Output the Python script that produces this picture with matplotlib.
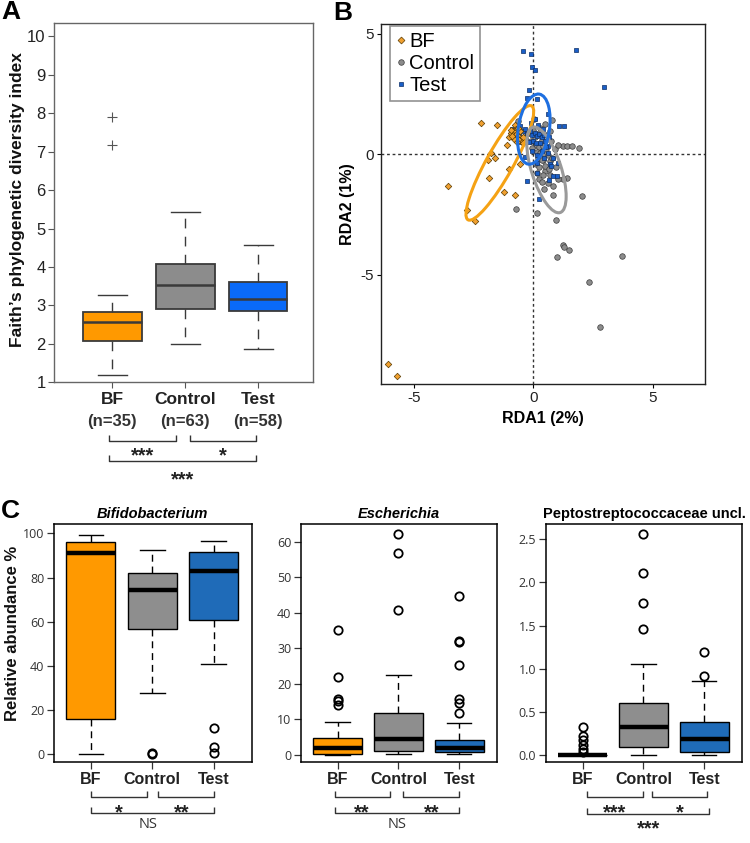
import numpy as np
import matplotlib
matplotlib.use('Agg')
import matplotlib.pyplot as plt
from matplotlib import transforms as mtrans
from matplotlib.patches import Ellipse
from matplotlib.lines import Line2D

plt.rcParams['font.family'] = ['Liberation Sans', 'DejaVu Sans']

# ---------------- DATA ----------------
groups = ['BF', 'Control', 'Test']
n_counts = [35, 63, 58]

# Panel A: Faith's PD box statistics
faith_whislo = [1.20, 1.99, 1.87]
faith_q1 = [2.07, 2.91, 2.85]
faith_med = [2.58, 3.52, 3.17]
faith_q3 = [2.83, 4.07, 3.62]
faith_whishi = [3.27, 5.44, 4.56]
faith_fliers = [[7.90, 7.18], [], []]
faith_yticks = [1, 2, 3, 4, 5, 6, 7, 8, 9, 10]

# Panel B: RDA scores
bf_x = [-6.08, -5.68, -3.57, -2.77, -2.42, -2.20, -1.52, -1.79, -1.88, -1.59, -1.85, -1.23,
        -1.00, -0.75, -0.55, -1.10, -1.02, -0.78, -0.72, -0.66, -0.76, -0.62, -0.69, -0.58,
        -0.80, -0.48, -0.84, -0.92, -0.45, -0.42, -0.88, -0.55, -0.70, -0.62, -0.95]
bf_y = [-8.70, -9.18, -1.33, -2.31, -2.77, 1.28, 1.22, 0.07, -0.25, -0.16, -0.98, -1.55,
        -0.62, -1.71, -0.42, 0.40, 0.73, 1.20, 1.03, 0.93, 0.87, 0.76, 0.66, 0.59,
        0.62, 0.52, 0.96, 0.86, 0.73, 0.45, 0.74, 0.98, 0.50, 1.10, 1.00]
ctrl_x = [-0.74, 0.14, 0.95, 0.81, 0.81, 0.46, 2.02, 1.26, 1.30, 1.48, 0.98, 3.70, 2.33, 2.79,
          1.26, 1.39, 1.63, 1.90, 1.42, 1.24, 1.05, 0.25, 0.71, 0.49, 0.70, 0.42, 0.03, 0.77,
          0.49, -0.66, 0.60, 0.35, 0.10, 0.25, 0.40, 0.55, 0.15, 0.30, 0.45, 0.60, 0.20, 0.35,
          0.10, 0.25, 0.50, 0.65, 0.05, 0.20, 0.35, -0.10, -0.25, 0.00, 0.75, 0.90, 0.80, 0.95,
          0.15, 0.40, 0.55, -0.05, 0.70, 1.05, 0.30]
ctrl_y = [-2.27, -2.45, -2.72, -1.69, -1.30, -1.44, -1.72, -3.76, -3.85, -3.97, -4.25, -4.22,
          -5.28, -7.15, 0.35, 0.35, 0.32, 0.24, -0.97, -1.04, -1.04, -1.01, -0.86, -0.68, -0.30,
          -0.24, 1.47, 1.42, 1.24, 1.36, -1.20, -1.15, 0.40, 0.30, 0.35, 0.20, 0.10, 0.05, 0.00,
          -0.05, -0.15, -0.25, -0.40, -0.55, -0.50, -0.60, 0.70, 0.85, 0.60, 0.55, 0.90, 1.00,
          0.55, 0.20, -0.15, -0.55, -0.80, -0.85, 0.80, 0.25, 0.95, 0.40, 1.10]
test_x = [-0.45, -0.08, -0.06, 0.08, 1.79, 2.94, -0.17, -0.26, 0.14, 0.61, 1.09, 1.30, -0.91,
          -0.33, 0.14, 0.70, 1.02, 0.14, 0.81, 0.98, 0.64, -0.25, 0.22, 0.66, 0.63, 0.84, 0.75,
          -0.55, -0.45, -0.35, -0.25, -0.15, -0.05, 0.05, 0.15, 0.25, 0.35, 0.45, -0.40, -0.30,
          -0.20, 0.00, 0.10, 0.30, 0.50, -0.60, -0.70, 0.20, 0.40, -0.10, 0.05, 0.55, 0.35,
          0.15, -0.05, 0.45, 0.60, -0.50]
test_y = [4.26, 4.16, 3.61, 3.49, 4.32, 2.77, 2.68, 2.35, 2.30, 1.67, 1.15, 1.15, 1.04,
          -0.10, -0.35, -0.40, -0.37, -0.76, -0.90, -0.90, -1.07, -1.12, -1.84, 0.73, 0.36,
          -0.17, -0.48, 1.15, 0.95, 1.05, 0.85, 0.95, 0.80, 0.90, 0.75, 0.85, 0.70, 0.80, 0.70,
          0.60, 0.50, 0.55, 0.45, 0.45, 0.55, 0.85, 0.95, 1.20, 1.05, 1.30, 1.45, 0.30, 0.15,
          -0.05, 0.15, -0.15, 0.05, 0.50]
# confidence ellipses: centre x, centre y, full width, full height, angle (deg)
ell_bf = [-1.40, -0.36, 5.42, 1.12, 60.6]
ell_ctrl = [0.55, -0.65, 3.72, 1.24, -72.0]
ell_test = [0.02, 1.04, 2.94, 1.30, 81.0]
rda_ticks = [-5, 0, 5]

# Panel C: relative abundances (box statistics)
bifido_whislo = [0.0, 27.6, 40.9]
bifido_q1 = [16.1, 56.7, 61.0]
bifido_med = [91.2, 74.5, 82.9]
bifido_q3 = [96.0, 82.2, 91.5]
bifido_whishi = [99.2, 92.7, 96.7]
bifido_fliers = [[], [0.3, 0.8], [12.0, 3.3, 0.8]]
bifido_ticks = [0, 20, 40, 60, 80, 100]

esch_whislo = [0.0, 0.2, 0.2]
esch_q1 = [0.2, 1.2, 0.75]
esch_med = [2.06, 4.5, 1.9]
esch_q3 = [4.69, 11.7, 4.2]
esch_whishi = [9.37, 22.4, 8.9]
esch_fliers = [[35.3, 21.9, 15.8, 15.2, 14.1], [62.2, 56.7, 40.7],
               [44.8, 32.2, 31.9, 25.4, 15.8, 14.5, 11.9]]
esch_ticks = [0, 10, 20, 30, 40, 50, 60]

pepto_whislo = [0.0, 0.0, 0.0]
pepto_q1 = [0.0, 0.09, 0.04]
pepto_med = [0.0, 0.32, 0.185]
pepto_q3 = [0.0, 0.60, 0.38]
pepto_whishi = [0.0, 1.06, 0.86]
pepto_fliers = [[0.33, 0.22, 0.17, 0.12, 0.07, 0.03], [2.56, 2.11, 1.76, 1.46], [1.19, 0.92]]
pepto_ticks = [0.0, 0.5, 1.0, 1.5, 2.0, 2.5]

# ---------------- LAYOUT ----------------
W, H = 750, 843
fig = plt.figure(figsize=(7.5, 8.43), dpi=100)


def add_ax(l, t, r, b):
    return fig.add_axes([l / W, 1 - b / H, (r - l) / W, (b - t) / H])


def fy(py):
    return 1 - py / H


def ftext(px, py, s, **kw):
    fig.text(px / W, fy(py), s, **kw)


def make_stats(wl, q1, med, q3, wh, fl):
    return [dict(whislo=wl[i], q1=q1[i], med=med[i], q3=q3[i], whishi=wh[i],
                 fliers=fl[i]) for i in range(len(wl))]


def bracket(ax, x0, x1, py, tick=6, color='#333333', lw=1.0):
    tr = mtrans.blended_transform_factory(ax.transData, fig.transFigure)
    ax.plot([x0, x0, x1, x1], [fy(py - tick), fy(py), fy(py), fy(py - tick)],
            transform=tr, clip_on=False, color=color, lw=lw, solid_capstyle='butt')


def btext(ax, x, py, s, size, **kw):
    tr = mtrans.blended_transform_factory(ax.transData, fig.transFigure)
    ax.text(x, fy(py), s, transform=tr, ha='center', va='center', fontsize=size,
            clip_on=False, **kw)


def star_text(ax, x, pcenter, s, size=14.5, color='#222222'):
    # place asterisks so their glyph centre sits at pcenter
    base = pcenter + 0.56 * size * 100 / 72
    tr = mtrans.blended_transform_factory(ax.transData, fig.transFigure)
    ax.text(x, fy(base), s, transform=tr, ha='center', va='baseline', fontsize=size,
            fontweight='bold', color=color, clip_on=False)


# ---------------- PANEL A ----------------
axA = add_ax(54, 23, 313, 382.3)
colA = ['#FF9900', '#8C8C8C', '#0A6AF8']
edgeA = '#3A3A3A'
statsA = make_stats(faith_whislo, faith_q1, faith_med, faith_q3, faith_whishi, faith_fliers)
bpA = axA.bxp(statsA, positions=[1, 2, 3], widths=0.8, capwidths=0.4, patch_artist=True,
              boxprops=dict(edgecolor=edgeA, linewidth=1.3),
              medianprops=dict(color=edgeA, linewidth=1.8),
              whiskerprops=dict(color=edgeA, linewidth=1.0, linestyle=(0, (7, 6))),
              capprops=dict(color=edgeA, linewidth=1.0),
              flierprops=dict(marker='+', markersize=7, markeredgecolor='#555555',
                              markeredgewidth=0.8, linestyle='none'),
              manage_ticks=False)
for p, c in zip(bpA['boxes'], colA):
    p.set_facecolor(c)
axA.set_xlim(0.2, 3.75)
axA.set_ylim(1.0, 10.35)
axA.set_yticks(faith_yticks)
axA.set_yticklabels([str(t) for t in faith_yticks], fontsize=12, color='#222222')
axA.set_xticks([1, 2, 3])
axA.set_xticklabels([])
axA.tick_params(axis='both', direction='out', length=4, width=0.8, color='#555555', pad=2)
for s in axA.spines.values():
    s.set_color('#666666')
    s.set_linewidth(1.0)
ftext(18, 200, 'Faith\u2019s phylogenetic diversity index', rotation=90, ha='center',
      va='center', fontsize=12.5, fontweight='bold', color='#111111')
trA = mtrans.blended_transform_factory(axA.transData, fig.transFigure)
for i, (g, n) in enumerate(zip(groups, n_counts)):
    axA.text(i + 1, fy(399.5), g, transform=trA, ha='center', va='center', fontsize=12.5,
             fontweight='bold', color='#222222', clip_on=False)
    axA.text(i + 1, fy(421), '(n=%d)' % n, transform=trA, ha='center', va='center',
             fontsize=12, fontweight='bold', color='#333333', clip_on=False)
bracket(axA, 0.96, 1.87, 441, tick=6)
bracket(axA, 2.06, 2.97, 441, tick=6)
bracket(axA, 0.96, 2.97, 461, tick=6)
star_text(axA, 1.42, 450, '***')
star_text(axA, 2.51, 450, '*')
star_text(axA, 1.96, 474, '***')
ftext(1, 12, 'A', fontsize=19, fontweight='bold', va='center', ha='left')

# ---------------- PANEL B ----------------
axB = add_ax(381, 24, 705, 384)
axB.set_xlim(-6.37, 7.18)
axB.set_ylim(-9.53, 5.4)
axB.axhline(0, color='#333333', lw=1.0, linestyle=(0, (2, 2)), zorder=1)
axB.axvline(0, color='#333333', lw=1.0, linestyle=(0, (2, 2)), zorder=1)
axB.scatter(ctrl_x, ctrl_y, s=16, marker='o', facecolor='#8C8C8C', edgecolor='#3A3A3A',
            linewidth=0.5, zorder=3, label='Control')
axB.scatter(test_x, test_y, s=10, marker='s', facecolor='#1A5FC8', edgecolor='#0D2F66',
            linewidth=0.5, zorder=4, label='Test')
axB.scatter(bf_x, bf_y, s=11, marker='D', facecolor='#F0A030', edgecolor='#5A3A00',
            linewidth=0.5, zorder=5, label='BF')
for prm, c in [(ell_bf, '#F5A214'), (ell_ctrl, '#9A9A9A'), (ell_test, '#1E6FE0')]:
    axB.add_patch(Ellipse((prm[0], prm[1]), prm[2], prm[3], angle=prm[4], fill=False,
                          edgecolor=c, linewidth=2.2, zorder=6))
axB.set_xticks(rda_ticks)
axB.set_yticks(rda_ticks)
axB.set_xticklabels(['-5', '0', '5'], fontsize=11, color='#222222')
axB.set_yticklabels(['-5', '0', '5'], fontsize=11, color='#222222')
axB.tick_params(axis='both', direction='out', length=3, width=0.8, pad=2)
for s in axB.spines.values():
    s.set_color('#222222')
    s.set_linewidth(1.0)
axB.set_xlabel('RDA1 (2%)', fontsize=11.5, fontweight='bold', labelpad=4)
axB.set_ylabel('RDA2 (1%)', fontsize=11.5, fontweight='bold', labelpad=4)
h_bf = Line2D([], [], marker='D', linestyle='none', markersize=3.5, markerfacecolor='#F0A030',
              markeredgecolor='#5A3A00', markeredgewidth=0.5)
h_ct = Line2D([], [], marker='o', linestyle='none', markersize=4, markerfacecolor='#8C8C8C',
              markeredgecolor='#3A3A3A', markeredgewidth=0.5)
h_te = Line2D([], [], marker='s', linestyle='none', markersize=3.2, markerfacecolor='#1A5FC8',
              markeredgecolor='#0D2F66', markeredgewidth=0.5)
leg = axB.legend([h_bf, h_ct, h_te], groups, loc='upper left',
                 bbox_to_anchor=(0.028, 0.994), borderaxespad=0, fontsize=14.5,
                 handlelength=0.45, handletextpad=0.2, borderpad=0.3, labelspacing=0.15,
                 frameon=True, fancybox=False)
leg.get_frame().set_edgecolor('#777777')
leg.get_frame().set_linewidth(1.2)
ftext(333, 13, 'B', fontsize=19, fontweight='bold', va='center', ha='left')

# ---------------- PANEL C ----------------
colC = ['#FF9900', '#8E8E8E', '#1F6BB8']
c_specs = [
    (54, 251.7, 'Bifidobacterium', 'italic',
     make_stats(bifido_whislo, bifido_q1, bifido_med, bifido_q3, bifido_whishi, bifido_fliers),
     (-3.5, 104.3), bifido_ticks, ['0', '20', '40', '60', '80', '100']),
    (301, 497, 'Escherichia', 'italic',
     make_stats(esch_whislo, esch_q1, esch_med, esch_q3, esch_whishi, esch_fliers),
     (-2.0, 65.0), esch_ticks, [str(t) for t in esch_ticks]),
    (546, 742, 'Peptostreptococcaceae uncl.', 'normal',
     make_stats(pepto_whislo, pepto_q1, pepto_med, pepto_q3, pepto_whishi, pepto_fliers),
     (-0.081, 2.677), pepto_ticks, ['%.1f' % t for t in pepto_ticks]),
]
axesC = []
for l, r, title, style, stats, ylim, ticks, tlabels in c_specs:
    ax = add_ax(l, 524, r, 762)
    axesC.append(ax)
    bp = ax.bxp(stats, positions=[1, 2, 3], widths=0.8, capwidths=0.4, patch_artist=True,
                boxprops=dict(edgecolor='black', linewidth=1.0),
                medianprops=dict(color='black', linewidth=3.2, solid_capstyle='butt'),
                whiskerprops=dict(color='black', linewidth=1.0, linestyle=(0, (5, 3.5))),
                capprops=dict(color='black', linewidth=1.0),
                flierprops=dict(marker='o', markersize=6, markerfacecolor='none',
                                markeredgecolor='black', markeredgewidth=1.3,
                                linestyle='none'),
                manage_ticks=False)
    for p, c in zip(bp['boxes'], colC):
        p.set_facecolor(c)
    ax.set_xlim(0.4, 3.62)
    ax.set_ylim(*ylim)
    ax.set_yticks(ticks)
    ax.set_yticklabels(tlabels, fontsize=9, color='#333333', family=['Open Sans', 'DejaVu Sans'])
    ax.set_xticks([1, 2, 3])
    ax.set_xticklabels([])
    ax.tick_params(axis='both', direction='out', length=5, width=0.9, color='#333333', pad=2)
    for s in ax.spines.values():
        s.set_color('black')
        s.set_linewidth(1.1)
    ax.set_title(title, fontsize=10.5, fontweight='bold', style=style, pad=4)
    tr = mtrans.blended_transform_factory(ax.transData, fig.transFigure)
    for i, g in enumerate(groups):
        ax.text(i + 1, fy(779.5), g, transform=tr, ha='center', va='center', fontsize=11.5,
                fontweight='bold', color='#222222', clip_on=False)

ftext(13, 633, 'Relative abundance %', rotation=90, ha='center', va='center',
      fontsize=12, fontweight='bold', color='#111111')

a1, a2, a3 = axesC
bracket(a1, 1.0, 1.91, 796.7, tick=6)
bracket(a1, 2.1, 3.0, 796.7, tick=6)
bracket(a1, 1.0, 3.0, 813.3, tick=6)
star_text(a1, 1.45, 806.7, '*')
star_text(a1, 2.48, 806.7, '**')
btext(a1, 1.94, 825, 'NS', 10.5, color='#333333', family=['Open Sans', 'DejaVu Sans'])

bracket(a2, 0.96, 1.86, 796.7, tick=6)
bracket(a2, 2.08, 3.0, 796.7, tick=6)
bracket(a2, 0.96, 3.0, 813.3, tick=6)
star_text(a2, 1.40, 806.7, '**')
star_text(a2, 2.55, 806.7, '**')
btext(a2, 1.97, 825, 'NS', 10.5, color='#333333', family=['Open Sans', 'DejaVu Sans'])

bracket(a3, 1.08, 1.99, 796.7, tick=6)
bracket(a3, 2.14, 3.05, 796.7, tick=6)
bracket(a3, 1.07, 3.08, 814.3, tick=6)
star_text(a3, 1.53, 806.7, '***')
star_text(a3, 2.59, 806.7, '*')
star_text(a3, 2.08, 822.7, '***')

ftext(1, 511, 'C', fontsize=19, fontweight='bold', va='center', ha='left')

fig.savefig('out.png', dpi=100)
